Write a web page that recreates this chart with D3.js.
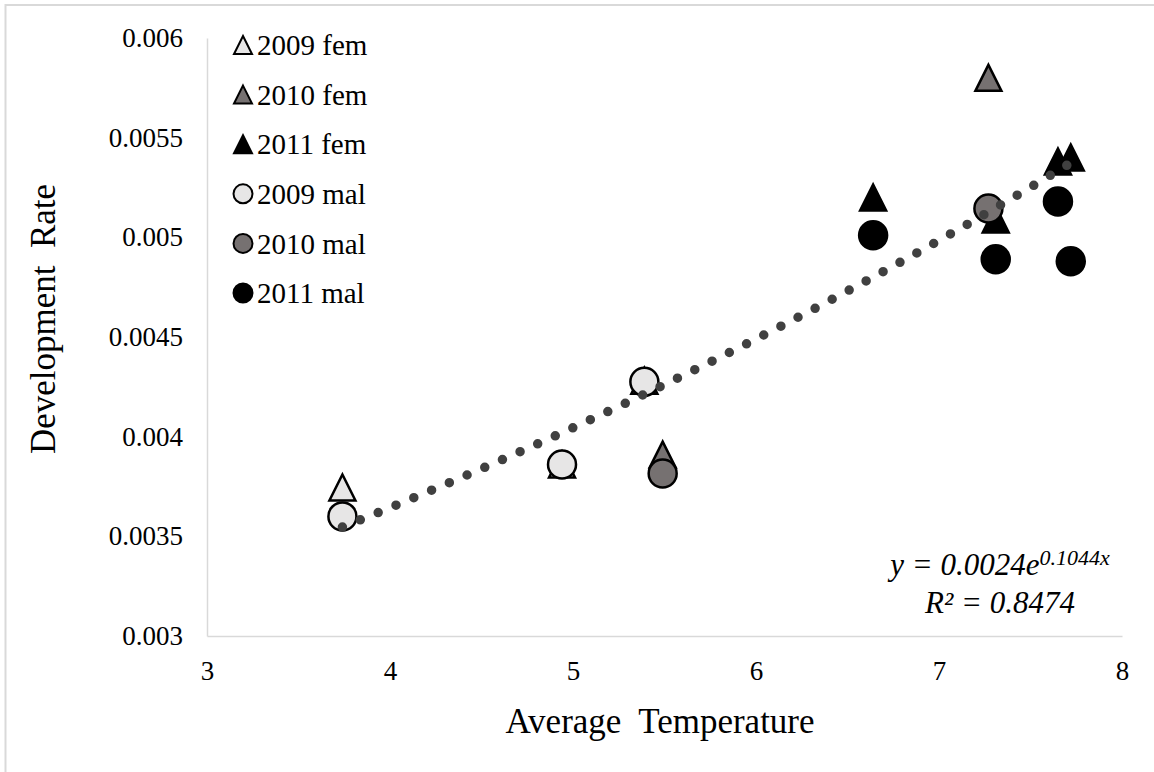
<!DOCTYPE html>
<html>
<head>
<meta charset="utf-8">
<script src="https://cdn.jsdelivr.net/npm/d3@7"></script>
<style>
  body { margin: 0; background: #fff; }
  text { font-family: "Liberation Serif", "Times New Roman", serif; fill: #000; }
</style>
</head>
<body>
<script>
// values: [average temperature, development rate]
const fem2009 = [[3.74, 0.003745], [4.94, 0.00386], [5.39, 0.00428]];
const fem2010 = [[5.49, 0.00391], [7.27, 0.0058]];
const fem2011 = [[6.64, 0.0052], [7.31, 0.00509], [7.65, 0.00538], [7.72, 0.0054]];
const mal2009 = [[3.74, 0.0036], [4.94, 0.00386], [5.39, 0.004275]];
const mal2010 = [[5.49, 0.003815], [7.27, 0.005145]];
const mal2011 = [[6.64, 0.00501], [7.31, 0.00489], [7.65, 0.00518], [7.72, 0.00488]];

const seriesNames = ["2009 fem", "2010 fem", "2011 fem", "2009 mal", "2010 mal", "2011 mal"];
const seriesShapes = ["tri", "tri", "tri", "circ", "circ", "circ"];
const seriesFills = ["#e7e6e6", "#767171", "#000000", "#e7e6e6", "#767171", "#000000"];
const seriesData = [fem2009, fem2010, fem2011, mal2009, mal2010, mal2011];

const xTicks = [3, 4, 5, 6, 7, 8];
const yTicks = [0.003, 0.0035, 0.004, 0.0045, 0.005, 0.0055, 0.006];
const yTickLabels = ["0.003", "0.0035", "0.004", "0.0045", "0.005", "0.0055", "0.006"];

// exponential trendline shown on the chart
const trendA = 0.0024;
const trendB = 0.1044;
const trendR2 = "0.8474";

const width = 1154, height = 772;
const plot = {left: 207, right: 1122, top: 38, bottom: 636};
const serif = "'Liberation Serif', 'Times New Roman', serif";

const svg = d3.select("body").append("svg")
    .attr("width", width)
    .attr("height", height);

// outer chart frame (cut off at right and bottom)
svg.append("rect")
    .attr("x", 5.5).attr("y", 5)
    .attr("width", 1300).attr("height", 1000)
    .attr("fill", "none")
    .attr("stroke", "#d9d9d9")
    .attr("stroke-width", 2);

const x = d3.scaleLinear().domain([3, 8]).range([plot.left, plot.right]);
const y = d3.scaleLinear().domain([0.003, 0.006]).range([plot.bottom, plot.top]);

// **** axes *****************
const gx = svg.append("g")
    .attr("transform", "translate(0," + plot.bottom + ")")
    .call(d3.axisBottom(x).tickValues(xTicks).tickSize(0).tickFormat(d3.format("d")))
    .attr("font-family", serif)
    .attr("font-size", 27);
gx.select(".domain").attr("stroke", "#d9d9d9").attr("stroke-width", 1.5);
gx.selectAll("text")
    .attr("dy", null)
    .attr("y", 44);

const gy = svg.append("g")
    .attr("transform", "translate(" + plot.left + ",0)")
    .call(d3.axisLeft(y).tickValues(yTicks).tickSize(0).tickPadding(24)
      .tickFormat(function(d, i) { return yTickLabels[i]; }))
    .attr("font-family", serif)
    .attr("font-size", 27);
gy.select(".domain").attr("stroke", "#d9d9d9").attr("stroke-width", 1.5);

// **** axis titles *****************
svg.append("text")
    .attr("x", 660)
    .attr("y", 733)
    .attr("text-anchor", "middle")
    .style("font-size", "35px")
    .style("white-space", "pre")
    .text("Average  Temperature");

svg.append("text")
    .attr("transform", "translate(55,319) rotate(-90)")
    .attr("text-anchor", "middle")
    .style("font-size", "35px")
    .style("white-space", "pre")
    .text("Development  Rate");

// **** markers *****************
function shapePath(shape, s) {
  if (shape === "tri") {
    const h = s / 2;
    return "M0," + (-h) + "L" + h + "," + h + "L" + (-h) + "," + h + "Z";
  }
  return d3.symbol(d3.symbolCircle, Math.PI * (s / 2) * (s / 2))();
}

seriesData.forEach(function(data, i) {
  svg.append("g")
    .selectAll("path")
    .data(data)
    .join("path")
      .attr("transform", function(d) { return "translate(" + x(d[0]) + "," + y(d[1]) + ")"; })
      .attr("d", shapePath(seriesShapes[i], seriesShapes[i] === "tri" ? 26 : 28))
      .attr("fill", seriesFills[i])
      .attr("stroke", "#000")
      .attr("stroke-width", 2.5);
});

// **** trendline *****************
const allX = seriesData.flat().map(function(d) { return d[0]; });
const xs = d3.range(100).map(function(k) {
  return d3.min(allX) + (d3.max(allX) - d3.min(allX)) * k / 99;
});
svg.append("path")
    .datum(xs)
    .attr("d", d3.line()
      .x(function(d) { return x(d); })
      .y(function(d) { return y(trendA * Math.exp(trendB * d)); }))
    .attr("fill", "none")
    .attr("stroke", "#404040")
    .attr("stroke-width", 9.5)
    .attr("stroke-linecap", "round")
    .attr("stroke-dasharray", "0 19.3");

// **** equation *****************
const eq = svg.append("text")
    .attr("x", 1000)
    .attr("y", 575)
    .attr("text-anchor", "middle")
    .style("font-size", "31px")
    .style("font-style", "italic");
eq.append("tspan").text("y = " + trendA + "e");
eq.append("tspan").attr("dy", -10).style("font-size", "22px").text(trendB + "x");

svg.append("text")
    .attr("x", 1000)
    .attr("y", 613)
    .attr("text-anchor", "middle")
    .style("font-size", "31px")
    .style("font-style", "italic")
    .text("R\u00b2 = " + trendR2);

// **** legend *****************
const legend = svg.append("g")
    .selectAll("g")
    .data(seriesNames)
    .join("g")
      .attr("transform", function(d, i) { return "translate(243," + (45 + 49.6 * i) + ")"; });

legend.append("path")
    .attr("d", function(d, i) { return shapePath(seriesShapes[i], seriesShapes[i] === "tri" ? 18 : 19); })
    .attr("fill", function(d, i) { return seriesFills[i]; })
    .attr("stroke", "#000")
    .attr("stroke-width", 2);

legend.append("text")
    .attr("x", 14)
    .attr("dy", "0.35em")
    .style("font-size", "29px")
    .text(function(d) { return d; });
</script>
</body>
</html>
